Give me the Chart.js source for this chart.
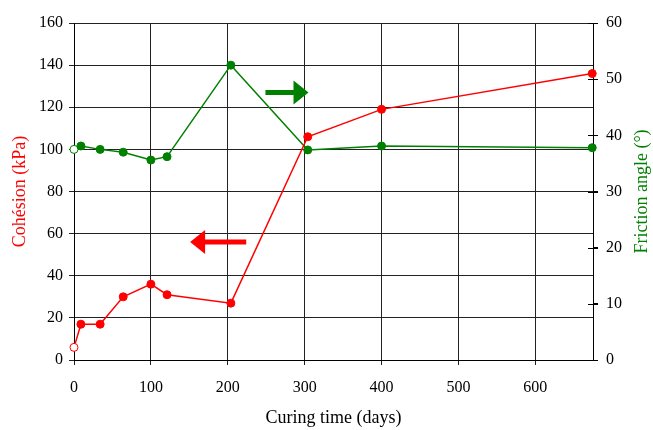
<!DOCTYPE html>
<html><head><meta charset="utf-8">
<script src="https://cdn.jsdelivr.net/npm/chart.js@4"></script>
<style>html,body{margin:0;padding:0;background:#fff}#w{width:653px;height:430px}</style>
</head><body><div id="w"><canvas id="c"></canvas></div>
<script>
const cohesionDays = [0, 9, 34, 64, 100, 121, 204, 304, 400, 674];
const cohesionValues = [6, 17, 17, 30, 36, 31, 27, 106, 119, 136];
const frictionDays = [0, 9, 34, 64, 100, 121, 204, 304, 400, 674];
const frictionValues = [37.5, 38.1, 37.5, 37.0, 35.6, 36.2, 52.5, 37.4, 38.1, 37.8];
const xTitle = 'Curing time (days)';
const yTitle = 'Cohésion (kPa)';
const y1Title = 'Friction angle (°)';
// arrows in data units: [fromDay, toDay, level(kPa)]
const greenArrow = [249, 305, 127];
const redArrow = [224, 151, 56];

const RED = '#ff0000', GREEN = '#008000';
const FONT = "'Liberation Serif', 'DejaVu Serif', serif";

function pts(xs, ys){ return xs.map((x,i)=>({x, y: ys[i]})); }
function bg(color, n){ return Array.from({length:n},(_,i)=> i===0 ? '#ffffff' : color); }

const extras = {
  id: 'extras',
  afterDatasetsDraw(chart){
    const ctx = chart.ctx, x = chart.scales.x, y = chart.scales.y, y1 = chart.scales.y1;
    const ca = chart.chartArea;
    ctx.save();
    ctx.strokeStyle = '#000'; ctx.lineWidth = 1;
    y1.ticks.forEach(t => {
      const py = Math.round(y1.getPixelForValue(t.value)) + 0.5;
      ctx.beginPath(); ctx.moveTo(y1.left - 5, py); ctx.lineTo(y1.left + 5, py); ctx.stroke();
    });
    function arrow(a, color){
      const x0 = x.getPixelForValue(a[0]), x1 = x.getPixelForValue(a[1]), py = y.getPixelForValue(a[2]);
      const dir = Math.sign(x1 - x0), head = 15, half = 12, shaft = 2.5;
      ctx.fillStyle = color;
      ctx.beginPath();
      ctx.moveTo(x0, py - shaft); ctx.lineTo(x1 - dir*head, py - shaft); ctx.lineTo(x1 - dir*head, py - half);
      ctx.lineTo(x1, py); ctx.lineTo(x1 - dir*head, py + half); ctx.lineTo(x1 - dir*head, py + shaft);
      ctx.lineTo(x0, py + shaft); ctx.closePath(); ctx.fill();
    }
    arrow(greenArrow, GREEN);
    arrow(redArrow, RED);
    // titles
    ctx.font = "18px " + FONT;
    ctx.textAlign = 'center'; ctx.textBaseline = 'middle';
    const cy = (ca.top + ca.bottom) / 2;
    ctx.fillStyle = '#000';
    ctx.fillText(xTitle, (ca.left + ca.right) / 2, 418);
    ctx.save(); ctx.translate(20, cy); ctx.rotate(-Math.PI/2); ctx.fillStyle = RED; ctx.fillText(yTitle, 0, 0); ctx.restore();
    ctx.save(); ctx.translate(642, cy); ctx.rotate(-Math.PI/2); ctx.fillStyle = GREEN; ctx.fillText(y1Title, 0, 0); ctx.restore();
    ctx.restore();
  }
};

new Chart(document.getElementById('c'), {
  type: 'scatter',
  data: { datasets: [
    { label: 'Cohésion', data: pts(cohesionDays, cohesionValues), yAxisID: 'y', showLine: true, clip: false,
      borderColor: RED, borderWidth: 1.5, pointRadius: 4, pointBorderWidth: 1,
      pointBorderColor: RED, pointBackgroundColor: bg(RED, cohesionDays.length), tension: 0 },
    { label: 'Friction', data: pts(frictionDays, frictionValues), yAxisID: 'y1', showLine: true, clip: false,
      borderColor: GREEN, borderWidth: 1.5, pointRadius: 4, pointBorderWidth: 1,
      pointBorderColor: GREEN, pointBackgroundColor: bg(GREEN, frictionDays.length), tension: 0 }
  ]},
  options: {
    responsive: true, maintainAspectRatio: false, animation: false,
    layout: { padding: { top: 23, left: 0, right: 0, bottom: 0 } },
    plugins: { legend: { display: false }, tooltip: { enabled: false } },
    scales: {
      x: { type: 'linear', min: 0, max: 675,
        ticks: { stepSize: 100, includeBounds: false, color: '#000', font: { family: FONT, size: 16 }, padding: 13, maxRotation: 0 },
        grid: { color: '#222', lineWidth: 1, tickLength: 5 },
        border: { color: '#000', width: 1 },
        afterFit(s){ s.height = 70; } },
      y: { position: 'left', min: 0, max: 160,
        ticks: { stepSize: 20, color: '#000', font: { family: FONT, size: 16 }, padding: 6 },
        grid: { color: '#222', lineWidth: 1, tickLength: 5 },
        border: { color: '#000', width: 1 },
        afterFit(s){ s.width = 74; } },
      y1: { position: 'right', min: 0, max: 60,
        ticks: { stepSize: 10, color: '#000', font: { family: FONT, size: 16 }, padding: 8 },
        grid: { drawOnChartArea: false, display: true, tickLength: 5, color: '#000' },
        border: { color: '#000', width: 1 },
        afterFit(s){ s.width = 60; } }
    }
  },
  plugins: [extras]
});
</script></body></html>
